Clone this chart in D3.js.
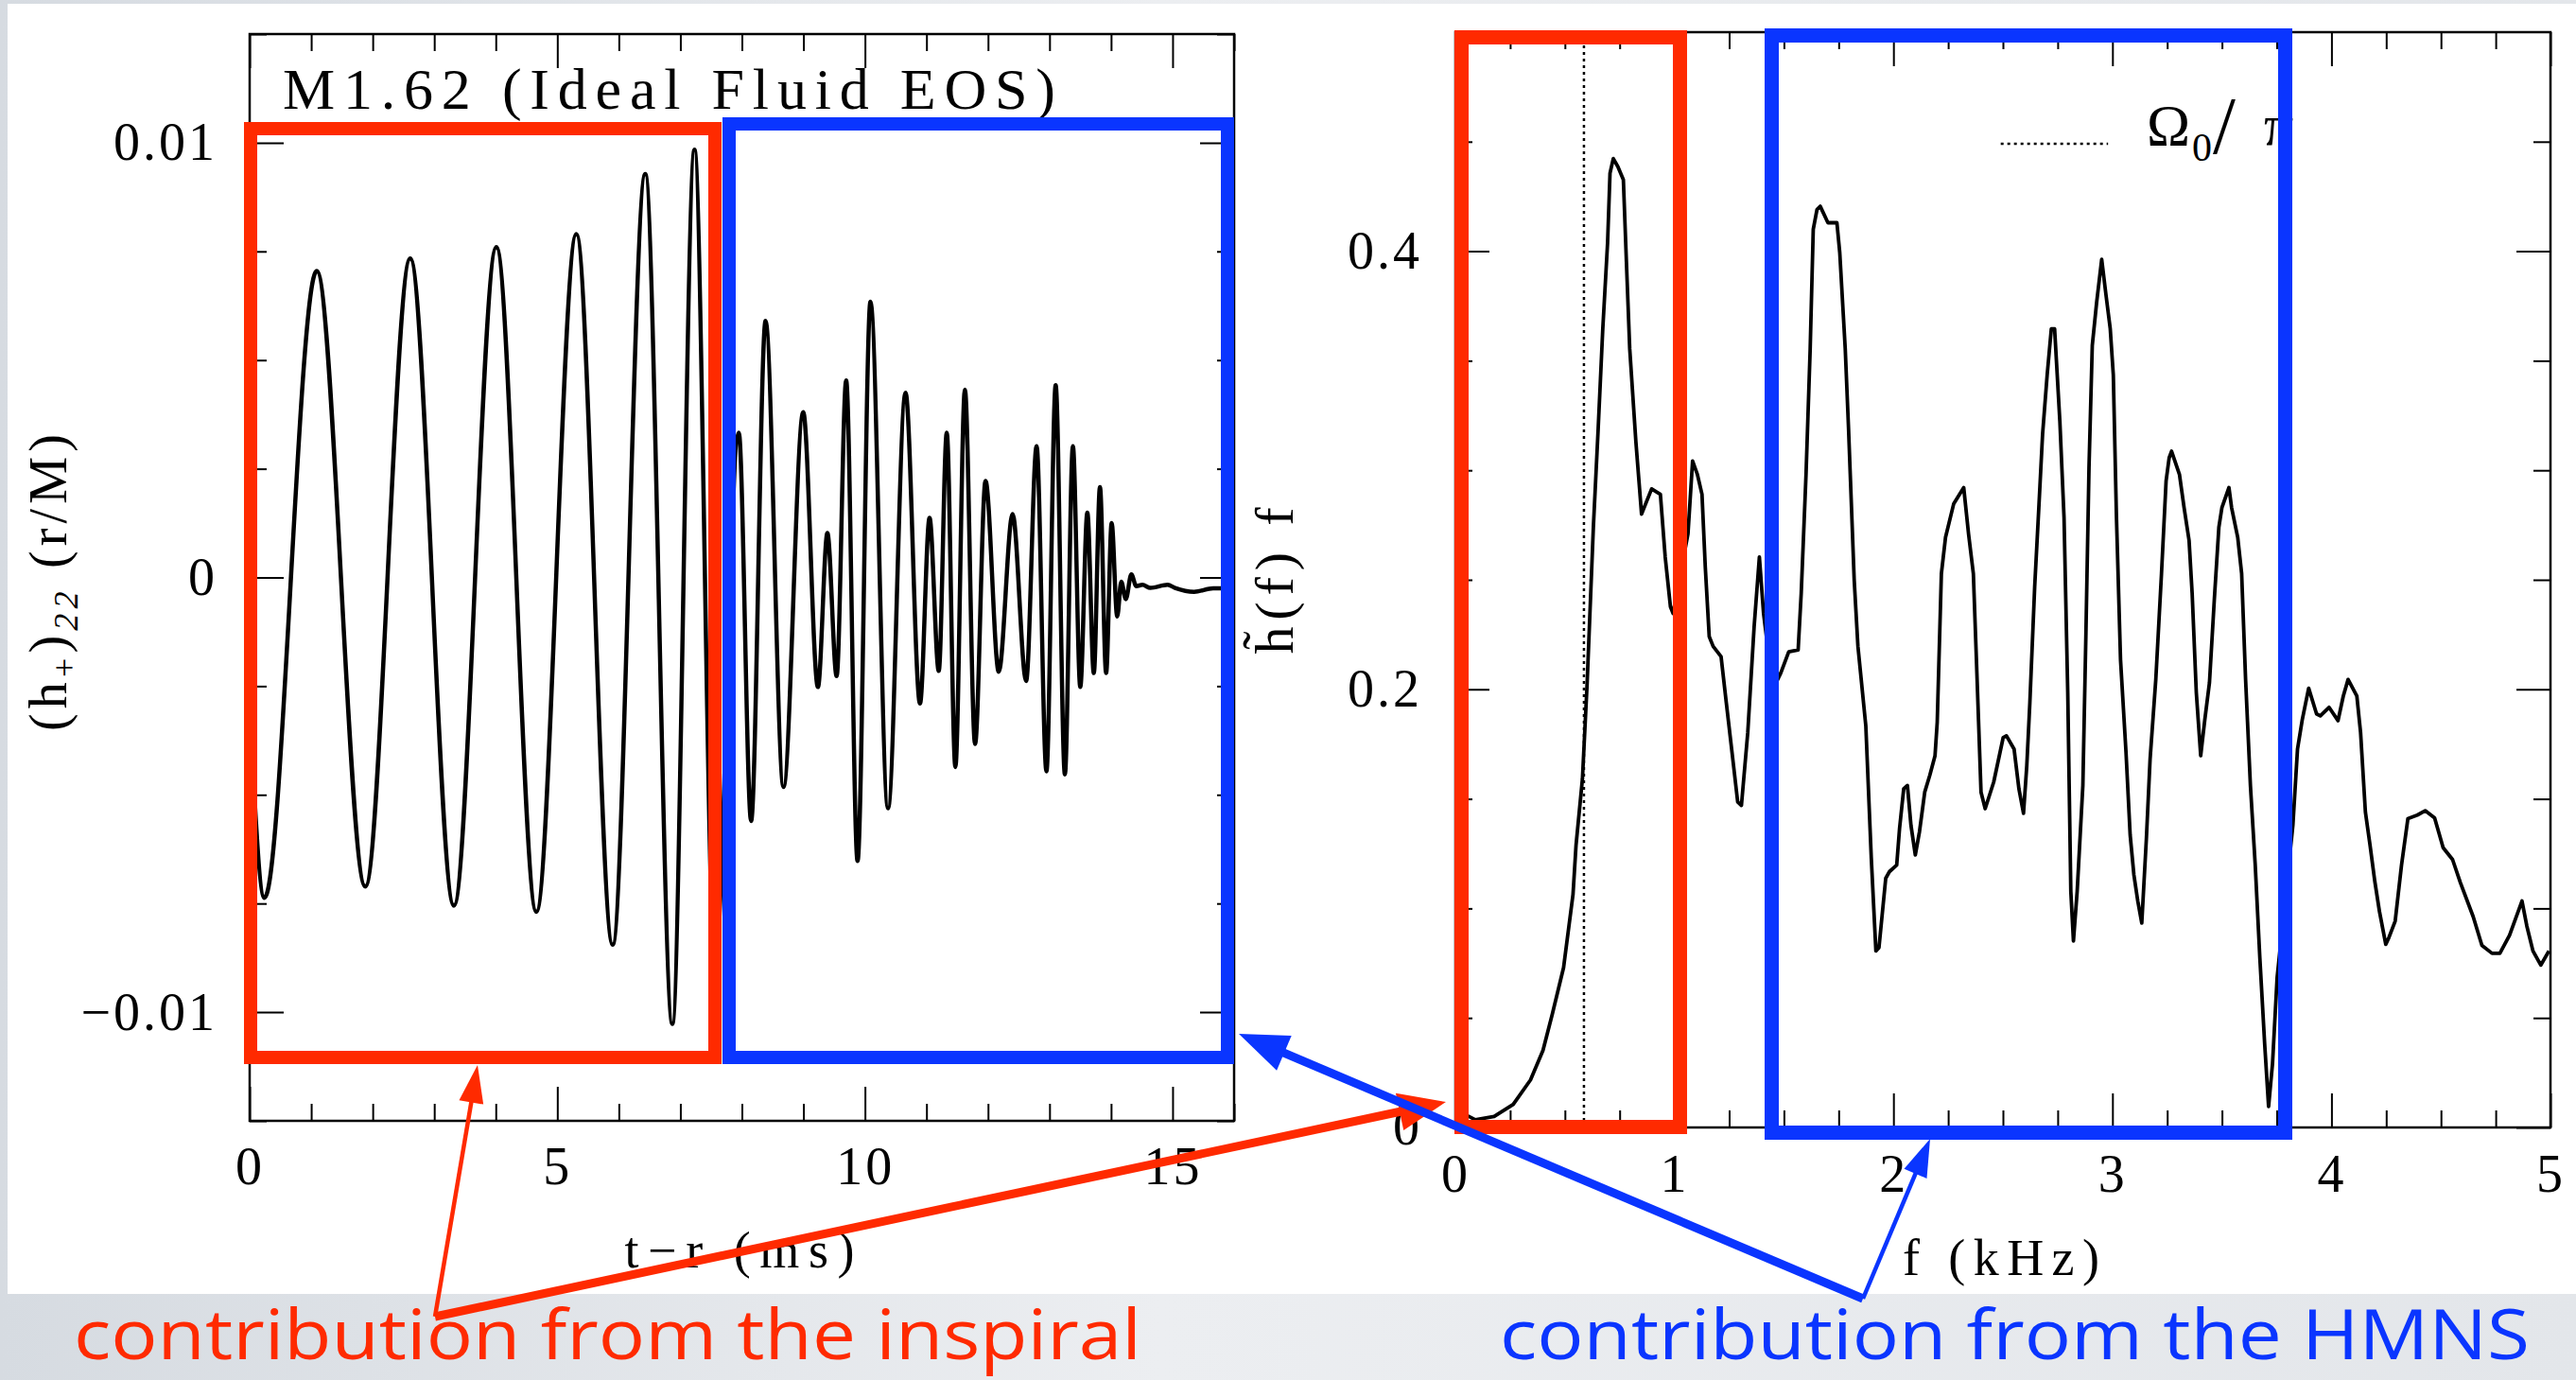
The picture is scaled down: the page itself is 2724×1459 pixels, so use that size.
<!DOCTYPE html>
<html>
<head>
<meta charset="utf-8">
<script src="https://cdn.jsdelivr.net/npm/d3@7"></script>
<style>
  body { margin: 0; background: #fff; }
  svg { display: block; }
</style>
</head>
<body>
<svg id="chart"></svg>
<script>
'use strict';

// left panel: extrema of (h+)22 (r/M) against t-r (ms)
var waveTime = [0.00, 0.24, 1.09, 1.88, 2.61, 3.32, 4.01, 4.66, 5.31, 5.90, 6.43, 6.87, 7.23, 7.56,
    7.95, 8.15, 8.385, 8.676, 8.997, 9.236, 9.39, 9.54, 9.695, 9.88, 10.09, 10.375, 10.66, 10.895,
    11.05, 11.20, 11.33, 11.47, 11.625, 11.79, 11.96, 12.175, 12.40, 12.62, 12.79, 12.95, 13.10,
    13.25, 13.38, 13.50, 13.615, 13.72, 13.82, 13.92, 14.01, 14.10, 14.166, 14.24, 14.33, 14.41,
    14.51, 14.64, 14.92, 15.04, 15.35, 15.66, 15.95];
var waveStrain = [-0.0030, -0.00737, 0.00705, -0.00711, 0.00734, -0.00755, 0.00760, -0.00769, 0.00790,
    -0.00845, 0.00928, -0.01027, 0.00984, -0.0090,
    0.00333, -0.0056, 0.0059, -0.00482, 0.0038, -0.00252, 0.00102, -0.00227, 0.00453, -0.00652,
    0.00634, -0.00531, 0.00425, -0.0029, 0.00137, -0.00215, 0.00333, -0.00436, 0.00432, -0.00383,
    0.00222, -0.00217, 0.00146, -0.00238, 0.00302, -0.00446, 0.00442, -0.00453, 0.00302, -0.00252,
    0.00149, -0.0022, 0.00208, -0.0022, 0.00125, -0.0009, -0.0001, -0.0005, 0.00007, -0.0002,
    -0.00017, -0.00024, -0.00017, -0.00024, -0.00033, -0.00025, -0.00025];

// right panel: h~(f) f against f (kHz)
var specFreq = [0.02, 0.062, 0.091, 0.177, 0.264, 0.343, 0.40, 0.443, 0.494, 0.537, 0.551, 0.580,
    0.601, 0.630, 0.652, 0.673, 0.695, 0.706, 0.721, 0.742, 0.767, 0.781, 0.796, 0.824, 0.850,
    0.896, 0.936, 0.958, 0.982, 0.994, 1.062, 1.083, 1.105, 1.126, 1.141, 1.159, 1.177, 1.213,
    1.237, 1.270, 1.289, 1.306, 1.335, 1.364, 1.388, 1.407, 1.45, 1.486, 1.522, 1.565, 1.579,
    1.601, 1.620, 1.634, 1.651, 1.666, 1.701, 1.742, 1.755, 1.780, 1.795, 1.821, 1.838, 1.874,
    1.899, 1.920, 1.934, 1.965, 1.982, 2.015, 2.028, 2.047, 2.064, 2.080, 2.100, 2.119, 2.143,
    2.166, 2.190, 2.200, 2.219, 2.238, 2.275, 2.321, 2.343, 2.365, 2.379, 2.400, 2.419, 2.458,
    2.501, 2.516, 2.551, 2.573, 2.594, 2.609, 2.623, 2.645, 2.664, 2.681, 2.702, 2.721, 2.736,
    2.760, 2.779, 2.796, 2.810, 2.822, 2.839, 2.865, 2.879, 2.893, 2.908, 2.928, 2.951, 2.971,
    2.990, 3.004, 3.018, 3.037, 3.062, 3.081, 3.098, 3.116, 3.134, 3.155, 3.172, 3.198, 3.224,
    3.245, 3.259, 3.270, 3.306, 3.327, 3.350, 3.364, 3.383, 3.403, 3.422, 3.443, 3.465, 3.486,
    3.500, 3.532, 3.544, 3.572, 3.590, 3.608, 3.630, 3.652, 3.673, 3.695, 3.713, 3.731, 3.752,
    3.79, 3.824, 3.845, 3.867, 3.896, 3.932, 3.949, 3.989, 4.030, 4.054, 4.076, 4.116, 4.133,
    4.155, 4.176, 4.198, 4.219, 4.248, 4.262, 4.291, 4.320, 4.349, 4.392, 4.428, 4.471, 4.510,
    4.553, 4.589, 4.647, 4.687, 4.733, 4.769, 4.813, 4.870, 4.892, 4.920, 4.956, 4.993];
var specAmp = [0.006, 0.005, 0.0035, 0.005, 0.0105, 0.0217, 0.0352, 0.0519, 0.073, 0.1063, 0.129, 0.159,
    0.2015, 0.274, 0.319, 0.3646, 0.404, 0.4356, 0.4423, 0.4386, 0.4326, 0.3948, 0.3555, 0.3132, 0.280,
    0.2915, 0.289, 0.2604, 0.2377, 0.2347, 0.271, 0.3042, 0.2981, 0.289, 0.2559, 0.2241, 0.2196, 0.215,
    0.1939, 0.1652, 0.1486, 0.147, 0.1803, 0.2286, 0.2604, 0.2347, 0.200, 0.2075, 0.2171, 0.218, 0.2438,
    0.2981, 0.3555, 0.410, 0.419, 0.4205, 0.413, 0.413, 0.3994, 0.3555, 0.3193, 0.2498, 0.2196, 0.1833,
    0.1229, 0.0806, 0.0821, 0.1138, 0.1168, 0.1198, 0.1365, 0.1546, 0.1561, 0.138, 0.1244, 0.135, 0.1531,
    0.1607, 0.1697, 0.185, 0.2528, 0.2694, 0.2846, 0.2921, 0.271, 0.2528, 0.2135, 0.1531, 0.1455, 0.1577,
    0.1779, 0.1788, 0.1727, 0.1546, 0.1434, 0.1652, 0.1939, 0.2468, 0.2831, 0.3163, 0.3435, 0.3646, 0.3646,
    0.3223, 0.2785, 0.1985, 0.1078, 0.0851, 0.1078, 0.1561, 0.2256, 0.3012, 0.357, 0.3767, 0.3963, 0.3797,
    0.3646, 0.3435, 0.280, 0.2135, 0.1712, 0.1334, 0.1153, 0.1032, 0.0933, 0.1319, 0.1682, 0.2045, 0.2528,
    0.2951, 0.3057, 0.3087, 0.2981, 0.283, 0.2679, 0.2438, 0.1985, 0.1697, 0.1863, 0.203, 0.2407, 0.274,
    0.283, 0.2921, 0.283, 0.2694, 0.2528, 0.2045, 0.1561, 0.1198, 0.0775, 0.0383, 0.0096, 0.0292, 0.0685,
    0.105, 0.138, 0.1727, 0.1863, 0.2005, 0.1888, 0.1879, 0.1918, 0.1857, 0.1969, 0.2045, 0.1969, 0.1803,
    0.144, 0.129, 0.1123, 0.0987, 0.0836, 0.0866, 0.0942, 0.1198, 0.141, 0.1426, 0.1446, 0.1413, 0.1277,
    0.1223, 0.1117, 0.0963, 0.0831, 0.0795, 0.0795, 0.0877, 0.1034, 0.092, 0.0806, 0.0741, 0.0806];

var omegaOverPi = 0.587; // kHz, dotted marker

var leftXTicks = [0, 5, 10, 15];
var leftXLabels = ['0', '5', '10', '15'];
var leftXMinor = [1, 2, 3, 4, 6, 7, 8, 9, 11, 12, 13, 14, 16];
var leftYTicks = [-0.01, 0, 0.01];
var leftYLabels = ['\u22120.01', '0', '0.01'];
var leftYMinor = [-0.0125, -0.0075, -0.005, -0.0025, 0.0025, 0.005, 0.0075, 0.0125];
var rightXTicks = [0, 1, 2, 3, 4, 5];
var rightXLabels = ['0', '1', '2', '3', '4', '5'];
var rightXMinor = [0.25, 0.5, 0.75, 1.25, 1.5, 1.75, 2.25, 2.5, 2.75, 3.25, 3.5, 3.75, 4.25, 4.5, 4.75];
var rightYTicks = [0, 0.2, 0.4];
var rightYLabels = ['0', '0.2', '0.4'];
var rightYMinor = [0.05, 0.1, 0.15, 0.25, 0.3, 0.35, 0.45];

var SERIF = '"Liberation Serif", "DejaVu Serif", serif';
var RED = '#ff2a00';
var BLUE = '#0a35ff';

var W = 2724, H = 1459;
var svg = d3.select('#chart').attr('width', W).attr('height', H);

// slide background with the grey caption band
var defs = svg.append('defs');
var band = defs.append('linearGradient').attr('id', 'band')
    .attr('x1', 0).attr('x2', 1).attr('y1', 0).attr('y2', 0);
band.append('stop').attr('offset', 0).attr('stop-color', '#d6dbe1');
band.append('stop').attr('offset', 0.45).attr('stop-color', '#eceef1');
band.append('stop').attr('offset', 1).attr('stop-color', '#e3e6ea');
svg.append('rect').attr('width', W).attr('height', H).attr('fill', 'url(#band)');
svg.append('rect').attr('x', 8).attr('y', 4).attr('width', W - 8).attr('height', 1364).attr('fill', '#fff');

var xL = d3.scaleLinear().domain([0, 16]).range([264, 1305]);
var yL = d3.scaleLinear().domain([-0.0125, 0.0125]).range([1185, 36]);
var xR = d3.scaleLinear().domain([0, 5]).range([1539, 2697]);
var yR = d3.scaleLinear().domain([0, 0.5]).range([1192, 34]);

function frame(x, y, xt, xlab, xm, yt, ylab, ym, padX, padY) {
    var g = svg.append('g');
    var bottom = y.range()[0], top = y.range()[1];
    var lft = x.range()[0], rgt = x.range()[1];

    function put(axis, tx, ty) {
        var a = g.append('g').attr('transform', 'translate(' + tx + ',' + ty + ')').call(axis);
        a.select('.domain').remove();
        a.selectAll('line').attr('stroke', '#000').attr('stroke-width', 2);
        a.attr('font-family', SERIF).attr('font-size', 56);
        a.selectAll('text').attr('fill', '#000').attr('letter-spacing', 3);
        return a;
    }

    put(d3.axisBottom(x).tickValues(xt).tickSizeInner(-36).tickSizeOuter(0).tickPadding(padX)
        .tickFormat(function (d, i) { return xlab[i]; }), 0, bottom);
    put(d3.axisBottom(x).tickValues(xm).tickSize(-18).tickFormat(''), 0, bottom);
    put(d3.axisTop(x).tickValues(xt).tickSize(-36).tickFormat(''), 0, top);
    put(d3.axisTop(x).tickValues(xm).tickSize(-18).tickFormat(''), 0, top);

    put(d3.axisLeft(y).tickValues(yt).tickSizeInner(-36).tickSizeOuter(0).tickPadding(padY)
        .tickFormat(function (d, i) { return ylab[i]; }), lft, 0);
    put(d3.axisLeft(y).tickValues(ym).tickSize(-18).tickFormat(''), lft, 0);
    put(d3.axisRight(y).tickValues(yt).tickSize(-36).tickFormat(''), rgt, 0);
    put(d3.axisRight(y).tickValues(ym).tickSize(-18).tickFormat(''), rgt, 0);

    g.append('rect')
        .attr('x', lft).attr('y', top)
        .attr('width', rgt - lft).attr('height', bottom - top)
        .attr('fill', 'none').attr('stroke', '#000').attr('stroke-width', 2.5);
}

frame(xL, yL, leftXTicks, leftXLabels, leftXMinor, leftYTicks, leftYLabels, leftYMinor, 27, 34);
frame(xR, yR, rightXTicks, rightXLabels, rightXMinor, rightYTicks, rightYLabels, rightYMinor, 28, 35);

// waveform
var wave = d3.line()
    .x(function (d, i) { return xL(waveTime[i]); })
    .y(function (d) { return yL(d); })
    .curve(d3.curveMonotoneX);
svg.append('path').attr('d', wave(waveStrain))
    .attr('fill', 'none').attr('stroke', '#000').attr('stroke-width', 4.5)
    .attr('stroke-linejoin', 'round');

// spectrum
var spec = d3.line()
    .x(function (d, i) { return xR(specFreq[i]); })
    .y(function (d) { return yR(d); });
svg.append('path').attr('d', spec(specAmp))
    .attr('fill', 'none').attr('stroke', '#000').attr('stroke-width', 3.8)
    .attr('stroke-linejoin', 'round');

svg.append('line')
    .attr('x1', xR(omegaOverPi)).attr('x2', xR(omegaOverPi))
    .attr('y1', yR(0)).attr('y2', yR(0.5))
    .attr('stroke', '#000').attr('stroke-width', 2.5).attr('stroke-dasharray', '3,4');

// legend
svg.append('line')
    .attr('x1', xR(2.49)).attr('x2', xR(2.98))
    .attr('y1', yR(0.449)).attr('y2', yR(0.449))
    .attr('stroke', '#000').attr('stroke-width', 2.5).attr('stroke-dasharray', '3,4');
var leg = svg.append('text').attr('font-family', SERIF).attr('font-size', 62)
    .attr('y', 153).attr('fill', '#000');
leg.append('tspan').attr('x', 2270).text('\u03A9');
leg.append('tspan').attr('x', 2318).attr('dy', 17).attr('font-size', 42).text('0');
leg.append('tspan').attr('x', 2340).attr('dy', -8).attr('font-size', 86).text('/');
leg.append('tspan').attr('x', 2394).attr('dy', -9).text('\u03C0');

// titles and axis labels
svg.append('text').attr('x', 299).attr('y', 115)
    .attr('font-family', SERIF).attr('font-size', 62)
    .attr('textLength', 817).attr('lengthAdjust', 'spacing')
    .text('M1.62 (Ideal Fluid EOS)');

svg.append('text').attr('x', 782).attr('y', 1340).attr('text-anchor', 'middle')
    .attr('font-family', SERIF).attr('font-size', 54)
    .attr('textLength', 243).attr('lengthAdjust', 'spacing')
    .text('t\u2212r  (ms)');
svg.append('text').attr('x', 2116).attr('y', 1348).attr('text-anchor', 'middle')
    .attr('font-family', SERIF).attr('font-size', 54)
    .attr('textLength', 208).attr('lengthAdjust', 'spacing')
    .text('f  (kHz)');

var yl = svg.append('text').attr('transform', 'translate(70,616) rotate(-90)')
    .attr('text-anchor', 'middle').attr('font-family', SERIF).attr('font-size', 56)
    .attr('textLength', 314).attr('lengthAdjust', 'spacing');
yl.append('tspan').text('(h');
yl.append('tspan').attr('dy', 10).attr('font-size', 36).text('+');
yl.append('tspan').attr('dy', -10).text(')');
yl.append('tspan').attr('dy', 12).attr('font-size', 36).attr('font-style', 'italic').text('22');
yl.append('tspan').attr('dy', -12).text(' (r/M)');

svg.append('text').attr('transform', 'translate(1367,614) rotate(-90)')
    .attr('text-anchor', 'middle').attr('font-family', SERIF).attr('font-size', 58)
    .attr('textLength', 155).attr('lengthAdjust', 'spacing')
    .text('h\u0303(f)  f');

// highlight boxes
var boxes = [
    { x0: 265, y0: 136, x1: 756, y1: 1118, c: RED, w: 14 },
    { x0: 771, y0: 131, x1: 1298, y1: 1118, c: BLUE, w: 14 },
    { x0: 1545.5, y0: 39.5, x1: 1776.5, y1: 1191.5, c: RED, w: 15 },
    { x0: 1873.5, y0: 37.5, x1: 2416.5, y1: 1197.5, c: BLUE, w: 15 }
];
svg.selectAll('.box').data(boxes).enter().append('rect')
    .attr('class', 'box')
    .attr('x', function (d) { return d.x0; })
    .attr('y', function (d) { return d.y0; })
    .attr('width', function (d) { return d.x1 - d.x0; })
    .attr('height', function (d) { return d.y1 - d.y0; })
    .attr('fill', 'none')
    .attr('stroke', function (d) { return d.c; })
    .attr('stroke-width', function (d) { return d.w; });

function arrow(x1, y1, x2, y2, w, len, half, color) {
    var dx = x2 - x1, dy = y2 - y1;
    var n = Math.sqrt(dx * dx + dy * dy);
    var ux = dx / n, uy = dy / n;
    var bx = x2 - ux * len, by = y2 - uy * len;
    svg.append('line')
        .attr('x1', x1).attr('y1', y1)
        .attr('x2', x2 - ux * len * 0.7).attr('y2', y2 - uy * len * 0.7)
        .attr('stroke', color).attr('stroke-width', w);
    svg.append('path')
        .attr('d', 'M' + x2 + ',' + y2 +
            'L' + (bx - uy * half) + ',' + (by + ux * half) +
            'L' + (bx + uy * half) + ',' + (by - ux * half) + 'Z')
        .attr('fill', color);
}

arrow(460, 1392, 505, 1126, 4.5, 40, 13, RED);
arrow(460, 1392, 1529, 1165, 9, 50, 20, RED);
arrow(1970, 1373, 1310, 1093, 9, 52, 20, BLUE);
arrow(1970, 1373, 2041, 1204, 4.5, 40, 13, BLUE);

// captions
svg.append('text').attr('x', 78).attr('y', 1437)
    .attr('font-family', '"Open Sans", sans-serif').attr('font-size', 74).attr('fill', RED)
    .attr('textLength', 1129).attr('lengthAdjust', 'spacingAndGlyphs')
    .text('contribution from the inspiral');
svg.append('text').attr('x', 1586).attr('y', 1437)
    .attr('font-family', '"Open Sans", sans-serif').attr('font-size', 74).attr('fill', BLUE)
    .attr('textLength', 1089).attr('lengthAdjust', 'spacingAndGlyphs')
    .text('contribution from the HMNS');
</script>
</body>
</html>
